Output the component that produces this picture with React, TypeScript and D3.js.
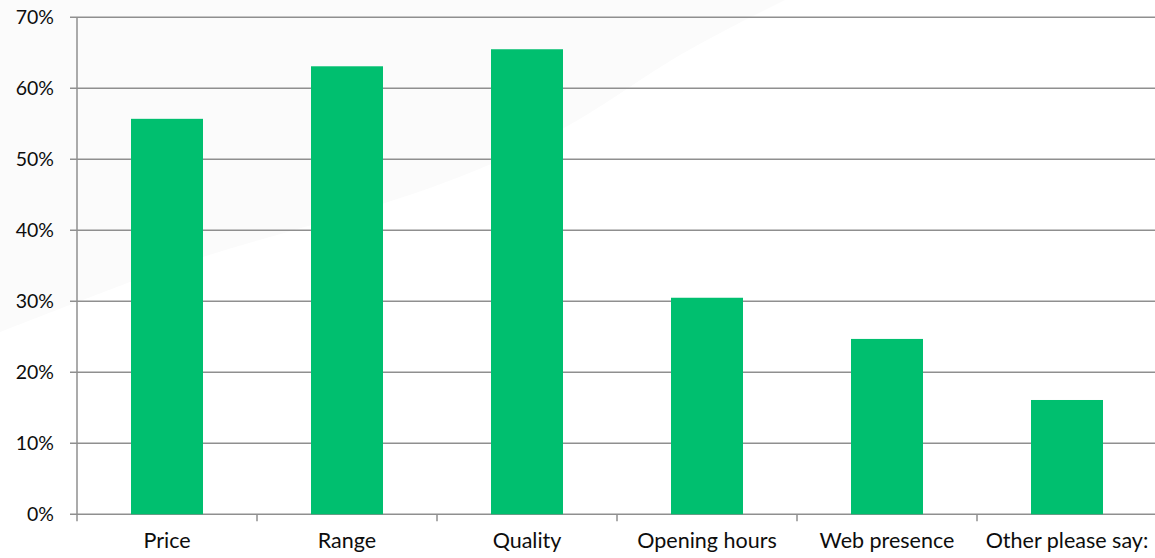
import React from "react";
import * as d3 from "d3";

const categories = ["Price", "Range", "Quality", "Opening hours", "Web presence", "Other please say:"];
const shares = [0.557, 0.631, 0.655, 0.305, 0.247, 0.161];
const yTicks = [0, 0.1, 0.2, 0.3, 0.4, 0.5, 0.6, 0.7];

const W = 1155;
const H = 558;
const left = 77;
const right = 1157;
const top = 17.3;
const bottom = 514.3;

const FONT = "Lato, 'Open Sans', sans-serif";

export default function App() {
  const x = d3.scaleBand<string>().domain(categories).range([left, right]).paddingInner(0.6).paddingOuter(0.3);
  const y = d3.scaleLinear().domain([0, 0.7]).range([bottom, top]);
  const step = x.step();
  const fmt = d3.format(".0%");

  // soft light sheen in the upper-left background
  const edge = d3.line().curve(d3.curveMonotoneX)([
    [0, 332],
    [130, 282],
    [578, 120],
    [680, 55],
    [785, 0],
  ]) as string;
  const sheen = edge + "L0,0Z";

  const boundaries = d3.range(categories.length + 1).map((i) => left + i * step);

  return (
    <svg width={W} height={H} style={{ position: "absolute", left: 0, top: 0, background: "#fff" }}>
      <path d={sheen} fill="#fbfbfb" />
      {yTicks.map((t) => (
        <g key={t}>
          <line x1={70} x2={right} y1={y(t)} y2={y(t)} stroke="#8f8f8f" strokeWidth={1.5} />
          <text x={54} y={y(t)} dy="0.36em" textAnchor="end" fontFamily={FONT} fontSize={19.5} fill="#0d0d0d">
            {fmt(t)}
          </text>
        </g>
      ))}
      <line x1={left} x2={left} y1={top} y2={bottom} stroke="#8f8f8f" strokeWidth={1.5} />
      {boundaries.map((b, i) => (
        <line key={i} x1={b} x2={b} y1={bottom} y2={bottom + 7} stroke="#8f8f8f" strokeWidth={1.5} />
      ))}
      {categories.map((c, i) => (
        <rect
          key={c}
          x={x(c)}
          y={y(shares[i])}
          width={x.bandwidth()}
          height={y(0) - y(shares[i])}
          fill="#00bf6f"
        />
      ))}
      {categories.map((c) => (
        <text
          key={c}
          x={(x(c) as number) + x.bandwidth() / 2}
          y={548}
          textAnchor="middle"
          fontFamily={FONT}
          fontSize={21.5}
          fill="#0d0d0d"
        >
          {c}
        </text>
      ))}
    </svg>
  );
}
